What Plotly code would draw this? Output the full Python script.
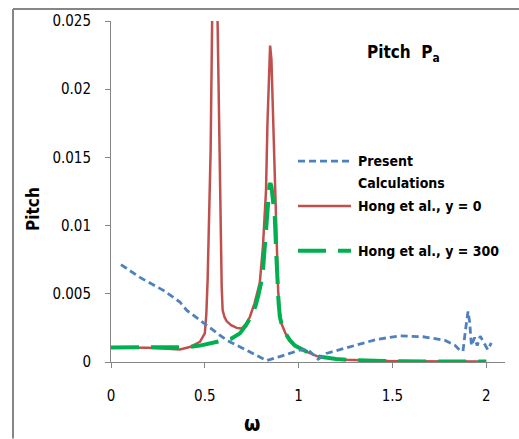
import plotly.graph_objects as go

# ---- data ----
blue_x = [0.053, 0.154, 0.279, 0.367, 0.403, 0.509, 0.545, 0.616, 0.722, 0.829, 0.9, 1.006, 1.05,
          1.104, 1.148, 1.273, 1.415, 1.539, 1.6, 1.663, 1.778, 1.832, 1.858, 1.876, 1.889, 1.903,
          1.912, 1.921, 1.938, 1.952, 1.968, 1.99, 2.008, 2.027]
blue_y = [0.00714, 0.0062, 0.00525, 0.0044, 0.0038, 0.0027, 0.0023, 0.0016, 0.00087, 0.0001, 0.0004,
          0.00087, 0.0009, 0.0002, 0.00063, 0.0011, 0.00165, 0.00192, 0.0019, 0.00185, 0.0016,
          0.00124, 0.00087, 0.0008, 0.0023, 0.0037, 0.0029, 0.0012, 0.0018, 0.0012, 0.0019,
          0.0013, 0.0009, 0.0014]

red_x = [0, 0.1, 0.2, 0.3, 0.367, 0.42, 0.474, 0.50, 0.508, 0.515, 0.523, 0.531, 0.539, 0.553,
         0.568, 0.577, 0.584, 0.590, 0.595, 0.605, 0.616, 0.64, 0.67, 0.696, 0.72, 0.74, 0.765,
         0.793, 0.81, 0.82, 0.826, 0.834, 0.841, 0.848, 0.855, 0.862, 0.868, 0.876, 0.884, 0.891,
         0.90, 0.909, 0.93, 0.953, 0.98, 1.006, 1.05, 1.104, 1.15, 1.2, 1.255, 1.35, 1.45, 1.55,
         1.7, 1.85, 2.0]
red_y = [0.00107, 0.00107, 0.00105, 0.00098, 0.00092, 0.0011, 0.00148, 0.0021, 0.0035, 0.006,
         0.010, 0.0155, 0.025, 0.045, 0.025, 0.0155, 0.0082, 0.0055, 0.0038, 0.0033, 0.0030,
         0.0027, 0.0025, 0.00245, 0.0028, 0.0033, 0.0043, 0.0058, 0.0085, 0.0106, 0.0125,
         0.0175, 0.0215, 0.0232, 0.0222, 0.019, 0.0155, 0.0115, 0.0075, 0.0052, 0.0036, 0.0028,
         0.0021, 0.0016, 0.0012, 0.001, 0.0007, 0.0004, 0.0003, 0.00022, 0.00016, 0.0001,
         0.00007, 0.00005, 0.00004, 0.00003, 0.00003]

green_x = [0, 0.1, 0.2, 0.3, 0.4, 0.474, 0.53, 0.589, 0.64, 0.687, 0.72, 0.749, 0.77, 0.784, 0.80,
           0.811, 0.82, 0.829, 0.838, 0.845, 0.850, 0.856, 0.862, 0.868, 0.873, 0.88, 0.886,
           0.893, 0.90, 0.909, 0.93, 0.953, 0.98, 1.006, 1.05, 1.104, 1.15, 1.2, 1.255, 1.35,
           1.45, 1.55, 1.7, 1.85, 2.0]
green_y = [0.00107, 0.00107, 0.00107, 0.00107, 0.00108, 0.0012, 0.00135, 0.0015, 0.0017, 0.0021,
           0.0027, 0.0034, 0.0041, 0.0048, 0.0058, 0.0069, 0.0085, 0.0106, 0.0122, 0.013, 0.0131,
           0.0128, 0.012, 0.0112, 0.0106, 0.0082, 0.0058, 0.0044, 0.0033, 0.0028, 0.0021, 0.0016,
           0.0012, 0.001, 0.0007, 0.0004, 0.0003, 0.00022, 0.00016, 0.0001, 0.00007, 0.00005,
           0.00004, 0.00003, 0.00003]

x_ticks = [0, 0.5, 1, 1.5, 2]
x_tick_labels = ["0", "0.5", "1", "1.5", "2"]
y_ticks = [0, 0.005, 0.01, 0.015, 0.02, 0.025]
y_tick_labels = ["0", "0.005", "0.01", "0.015", "0.02", "0.025"]

series_names = ["Present", "Calculations", "Hong et al., y = 0", "Hong et al., y = 300"]
title_text = "Pitch  P<sub>a</sub>"

BLUE = "#4F81BD"
RED = "#C0504D"
GREEN = "#00B050"
FONT = "Liberation Sans Narrow, DejaVu Sans Condensed, Arial Narrow, sans-serif"
BORDER = "#868686"

fig = go.Figure()
fig.add_trace(go.Scatter(x=red_x, y=red_y, mode="lines",
                         line=dict(color=RED, width=2.5), showlegend=False))
fig.add_trace(go.Scatter(x=green_x, y=green_y, mode="lines",
                         line=dict(color=GREEN, width=4, dash="28px,12px"), showlegend=False))
fig.add_trace(go.Scatter(x=blue_x, y=blue_y, mode="lines",
                         line=dict(color=BLUE, width=2.8, dash="7px,4px"), showlegend=False))

W, H = 519, 439
L, R, T, B = 111, 14, 19, 77
PW, PH = W - L - R, H - T - B


def px(xp):
    return (xp - L) / PW


def py(yp):
    return (H - B - yp) / PH


shapes = [
    # chart border (top and left)
    dict(type="line", xref="paper", yref="paper", x0=px(13), x1=px(519), y0=py(7), y1=py(7),
         line=dict(color=BORDER, width=2)),
    dict(type="line", xref="paper", yref="paper", x0=px(13), x1=px(13), y0=py(7), y1=py(439),
         line=dict(color=BORDER, width=2)),
    # legend samples
    dict(type="line", xref="paper", yref="paper", x0=px(298), x1=px(351), y0=py(160), y1=py(160),
         line=dict(color=BLUE, width=2.8, dash="7px,4px")),
    dict(type="line", xref="paper", yref="paper", x0=px(298), x1=px(351), y0=py(205), y1=py(205),
         line=dict(color=RED, width=2.5)),
    dict(type="line", xref="paper", yref="paper", x0=px(298), x1=px(351), y0=py(250), y1=py(250),
         line=dict(color=GREEN, width=4, dash="28px,12px")),
]

annotations = [
    dict(text="<b>" + title_text + "</b>", x=px(403), y=py(52), xref="paper", yref="paper",
         showarrow=False, font=dict(family=FONT, size=17, color="black"),
         xanchor="center", yanchor="middle"),
    dict(text="<b>Pitch</b>", x=px(21), y=py(208), xref="paper", yref="paper", showarrow=False,
         textangle=-90, font=dict(family=FONT, size=17, color="black")),
    dict(text="<b>ω</b>", x=px(252), y=py(438), xref="paper", yref="paper", showarrow=False,
         font=dict(family=FONT, size=21, color="black")),
]
legend_rows = [(series_names[0], 160), (series_names[1], 182), (series_names[2], 205),
               (series_names[3], 250)]
for txt, yy in legend_rows:
    annotations.append(dict(text="<b>" + txt + "</b>", x=px(356), y=py(yy), xref="paper",
                            yref="paper", showarrow=False, xanchor="left", yanchor="middle",
                            font=dict(family=FONT, size=14, color="black")))

fig.update_layout(
    width=W, height=H,
    margin=dict(l=L, r=R, t=T, b=B, pad=0),
    paper_bgcolor="white", plot_bgcolor="white",
    showlegend=False,
    shapes=shapes, annotations=annotations,
    font=dict(family=FONT, color="black"),
    xaxis=dict(range=[0, 2.1], tickvals=x_ticks, ticktext=x_tick_labels, showgrid=False,
               zeroline=False, showline=True, linecolor=BORDER, linewidth=1,
               ticks="outside", ticklen=5, tickcolor=BORDER, ticklabelstandoff=15,
               tickfont=dict(family=FONT, size=15, color="black")),
    yaxis=dict(range=[0, 0.025], tickvals=y_ticks, ticktext=y_tick_labels, showgrid=False,
               zeroline=False, showline=True, linecolor=BORDER, linewidth=1,
               ticks="outside", ticklen=5, tickcolor=BORDER, ticklabelstandoff=11,
               tickfont=dict(family=FONT, size=15, color="black")),
)

fig.write_html("out.html")
